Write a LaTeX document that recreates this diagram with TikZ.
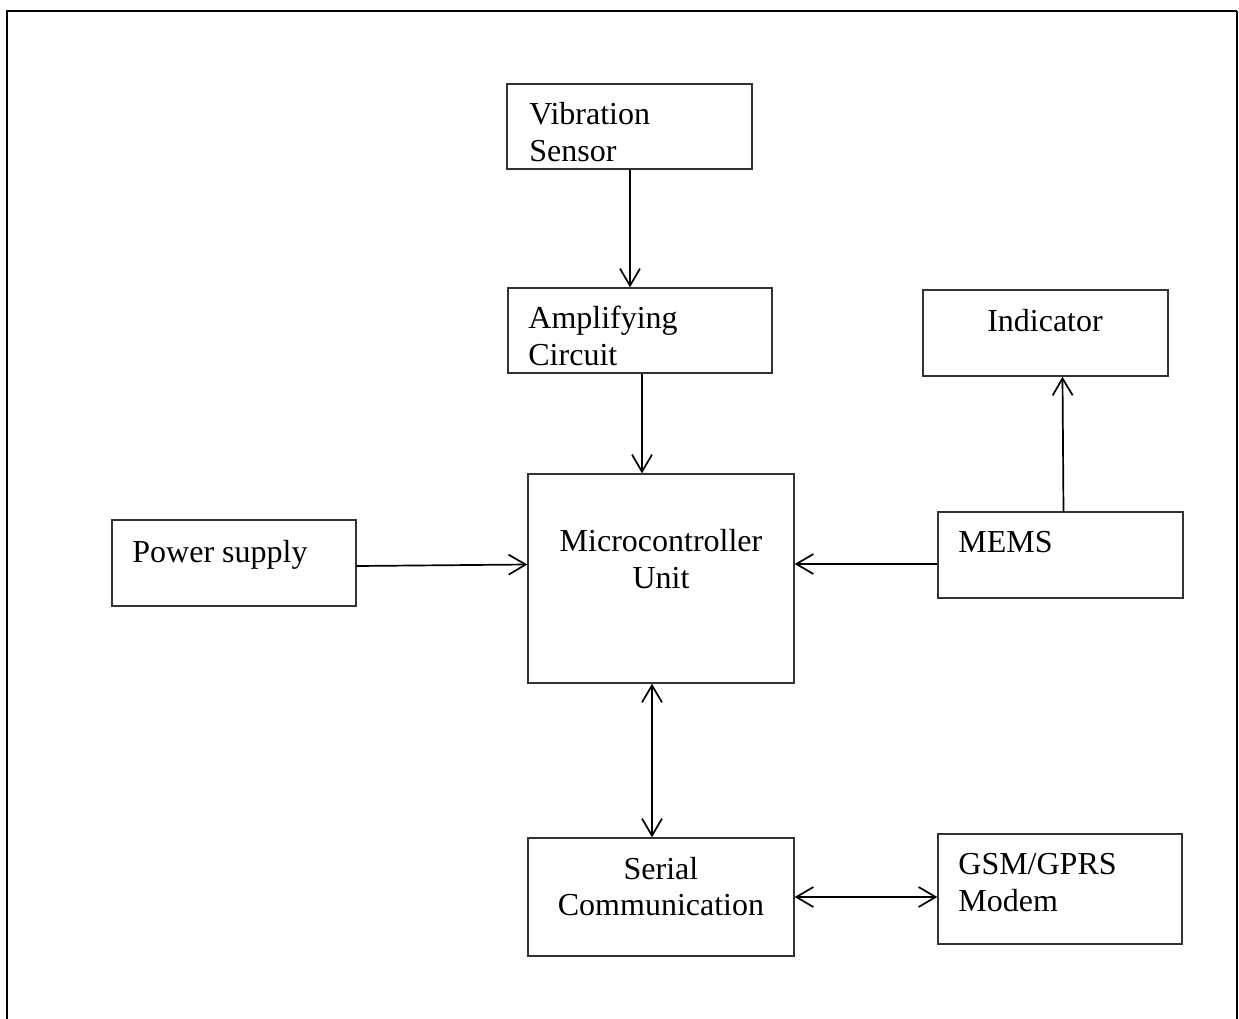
\documentclass[tikz,border=0pt]{standalone}
\usepackage{fontspec}
\setmainfont{Liberation Serif}
\usetikzlibrary{arrows.meta}
\begin{document}
\begin{tikzpicture}[x=0.5pt,y=-0.5pt,
  box/.style={draw=black!80,line width=0.7pt,rectangle,inner sep=0pt},
  lbl/.style={inner sep=0pt,font=\fontsize{16}{19}\selectfont},
  arr/.style={line width=0.85pt,-{Straight Barb[length=8.5pt,width=10pt,line width=0.85pt]}},
  darr/.style={line width=0.85pt,{Straight Barb[length=8.5pt,width=10pt,line width=0.85pt]}-{Straight Barb[length=8.5pt,width=10pt,line width=0.85pt]}}]
\useasboundingbox (0,0) rectangle (1239,1019);
% outer frame
\draw[line width=1.1pt] (7,1019) -- (7,11) -- (1237,11);
\draw[line width=0.75pt] (1237,11) -- (1237,1019);
% boxes
\node[box,minimum width=122.5pt,minimum height=42.5pt] (vs) at (629.5,126.5) {};
\node[box,minimum width=132pt,minimum height=42.5pt] (ac) at (640,330.5) {};
\node[box,minimum width=133pt,minimum height=104.5pt] (mcu) at (661,578.5) {};
\node[box,minimum width=122.5pt,minimum height=43pt] (ind) at (1045.5,333) {};
\node[box,minimum width=122.5pt,minimum height=43pt] (mems) at (1060.5,555) {};
\node[box,minimum width=122pt,minimum height=43pt] (ps) at (234,563) {};
\node[box,minimum width=133pt,minimum height=59pt] (sc) at (661,897) {};
\node[box,minimum width=122pt,minimum height=55pt] (gsm) at (1060,889) {};
% labels
\node[lbl,anchor=base west] (t1) at (529,124) {Vibration};
\node[lbl,anchor=base west] (t2) at (529,161) {Sensor};
\node[lbl,anchor=base west] (t3) at (528,328) {Amplifying};
\node[lbl,anchor=base west] (t4) at (528,365) {Circuit};
\node[lbl,anchor=base] (t5) at (1045,331) {Indicator};
\node[lbl,anchor=base west] (t6) at (958,552) {MEMS};
\node[lbl,anchor=base west] (t7) at (132,562) {Power supply};
\node[lbl,anchor=base] (t8) at (661,551) {Microcontroller};
\node[lbl,anchor=base] (t9) at (661,588) {Unit};
\node[lbl,anchor=base] (t10) at (661,879) {Serial};
\node[lbl,anchor=base] (t11) at (661,915) {Communication};
\node[lbl,anchor=base west] (t12) at (958,874) {GSM/GPRS};
\node[lbl,anchor=base west] (t13) at (958,911) {Modem};
% connectors
\draw[arr] ([xshift=0.25pt]vs.south) -- ([xshift=0.25pt]vs.south |- ac.north);
\draw[arr] ([xshift=1pt]ac.south) -- ([xshift=1pt]ac.south |- mcu.north);
\draw[arr] ([xshift=1.5pt]mems.north) -- ([xshift=1pt]mems.north |- ind.south);
\draw[arr] ([yshift=-4.5pt]mems.west) -- ([yshift=-4.5pt]mems.west -| mcu.east);
\draw[arr] ([yshift=-1.5pt]ps.east) -- ([yshift=7pt]mcu.west);
\draw[darr] ([xshift=-4.5pt]mcu.south) -- ([xshift=-4.5pt]sc.north);
\draw[darr] (sc.east) -- (sc.east -| gsm.west);
\end{tikzpicture}
\end{document}
